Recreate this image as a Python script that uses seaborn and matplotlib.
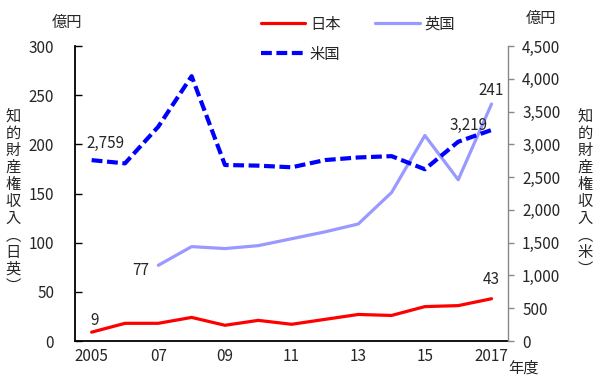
import matplotlib
matplotlib.use('Agg')
import matplotlib.pyplot as plt
import matplotlib.ticker as mticker
import pandas as pd
import seaborn as sns

years = list(range(2005, 2018))
japan = [9, 18, 18, 24, 16, 21, 17, 22, 27, 26, 35, 36, 43]
uk_years = list(range(2007, 2018))
uk = [77, 96, 94, 97, 104, 111, 119, 151, 209, 164, 241]
us = [2759, 2710, 3270, 4040, 2685, 2675, 2650, 2760, 2800, 2820, 2620, 3040, 3219]
xtick_years = [2005, 2007, 2009, 2011, 2013, 2015, 2017]
xtick_labels = ['2005', '07', '09', '11', '13', '15', '2017']

sns.set_style('white')
plt.rcParams['font.family'] = ['Noto Sans CJK JP', 'DejaVu Sans']
plt.rcParams['font.size'] = 11

jp_df = pd.DataFrame({'year': years, 'value': japan})
uk_df = pd.DataFrame({'year': uk_years, 'value': uk})
us_df = pd.DataFrame({'year': years, 'value': us})

fig = plt.figure(figsize=(6, 3.8), dpi=100)
ax = fig.add_axes([0.125, 0.1026, 0.722, 0.7763])
ax2 = ax.twinx()

sns.lineplot(data=jp_df, x='year', y='value', ax=ax, color='#ff0000', lw=2.3, label='日本', legend=False)
sns.lineplot(data=uk_df, x='year', y='value', ax=ax, color='#9999ff', lw=2.3, label='英国', legend=False)
sns.lineplot(data=us_df, x='year', y='value', ax=ax2, color='#0000ff', lw=3, label='米国', legend=False)
ax2.lines[0].set_dashes([2.6, 1.1])

ax.set_xlim(2004.5, 2017.5)
ax.set_ylim(0, 300)
ax2.set_ylim(0, 4500)
ax.set_yticks(range(0, 301, 50))
ax2.set_yticks(range(0, 4501, 500))
ax2.yaxis.set_major_formatter(mticker.FuncFormatter(lambda v, p: f'{int(v):,}'))
ax.set_xticks(xtick_years)
ax.set_xticklabels(xtick_labels)
ax.set_xticks([y + 0.5 for y in range(2004, 2017)], minor=True)
ax.tick_params(axis='x', which='major', length=0, pad=5)
ax.tick_params(axis='x', which='minor', direction='in', length=5, width=1, color='black')
ax.tick_params(axis='y', direction='in', length=5, width=1, color='black', pad=15)
ax2.tick_params(axis='y', direction='out', length=4, width=1, color='#888888', pad=6)
ax.set_xlabel('')
ax.set_ylabel('')
ax2.set_ylabel('')

for a in (ax, ax2):
    for s in a.spines.values():
        s.set_visible(False)
ax.spines['left'].set_visible(True)
ax.spines['bottom'].set_visible(True)
ax2.spines['right'].set_visible(True)
ax.spines['left'].set_color('black')
ax.spines['bottom'].set_color('black')
ax.spines['left'].set_linewidth(1.3)
ax.spines['bottom'].set_linewidth(1.3)
ax2.spines['right'].set_color('#888888')
ax2.spines['right'].set_linewidth(1)

# data labels
ax.text(2005.1, 21, '9', ha='center', va='center')
ax.text(2006.72, 72, '77', ha='right', va='center')
ax.text(2017, 63, '43', ha='center', va='center')
ax.text(2017, 255, '241', ha='center', va='center')
ax2.text(2004.85, 3020, '2,759', ha='left', va='center')
ax2.text(2016.3, 3290, '3,219', ha='center', va='center')

# legend (column-wise fill: 日本/米国 in first column, 英国 in second)
h = ax.get_lines()[:2] + ax2.get_lines()[:1]
fig.legend([h[0], h[2], h[1]], ['日本', '米国', '英国'], ncol=2, loc='upper left',
           bbox_to_anchor=(0.412, 0.995), frameon=False, handlelength=2.9, columnspacing=2.3,
           handletextpad=0.3, labelspacing=0.85)

# units and axis titles
fig.text(0.112, 0.942, '億円', ha='center', va='center')
fig.text(0.902, 0.952, '億円', ha='center', va='center')
fig.text(0.872, 0.032, '年度', ha='center', va='center')
fig.text(0.022, 0.716, '\n'.join('知的財産権収入︵日英︶'), ha='center', va='top', fontsize=11, linespacing=1.0)
fig.text(0.975, 0.716, '\n'.join('知的財産権収入︵米︶'), ha='center', va='top', fontsize=11, linespacing=1.0)

fig.savefig('out.png', dpi=100)
